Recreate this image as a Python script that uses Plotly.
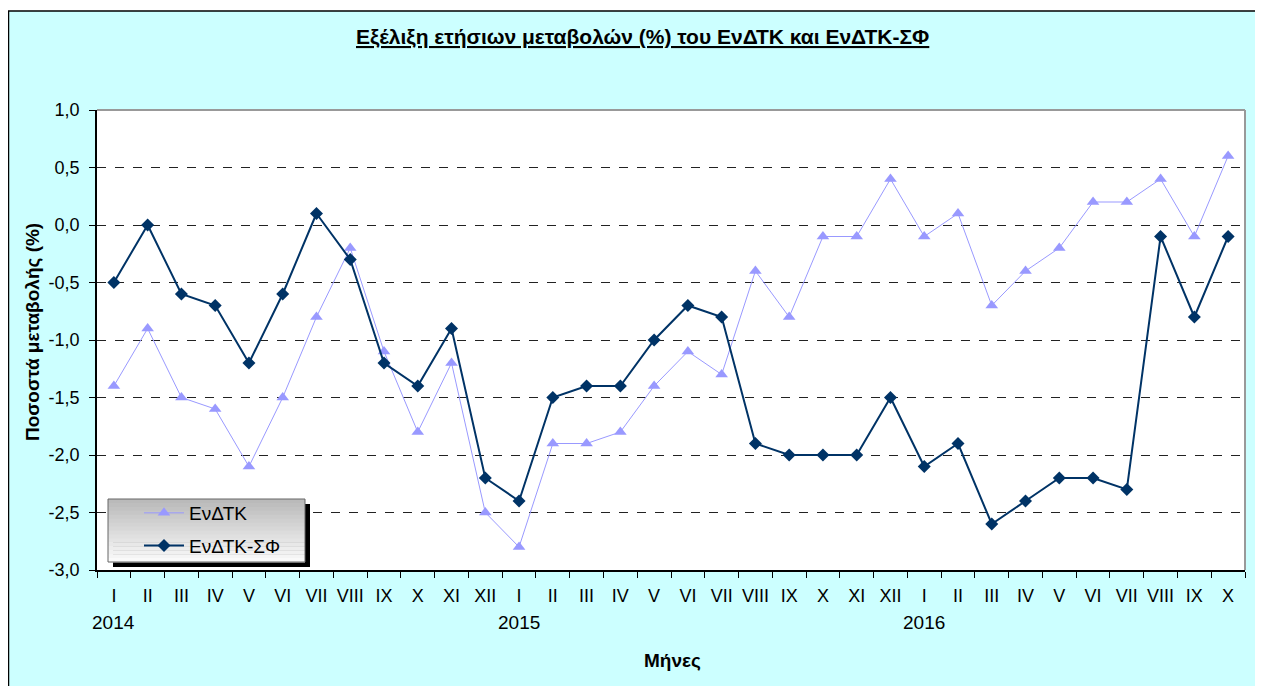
import plotly.graph_objects as go

months = ["I", "II", "III", "IV", "V", "VI", "VII", "VIII", "IX", "X", "XI", "XII",
          "I", "II", "III", "IV", "V", "VI", "VII", "VIII", "IX", "X", "XI", "XII",
          "I", "II", "III", "IV", "V", "VI", "VII", "VIII", "IX", "X"]
years = [2014] * 12 + [2015] * 12 + [2016] * 10
year_labels = ["2014", "2015", "2016"]

endtk = [-1.4, -0.9, -1.5, -1.6, -2.1, -1.5, -0.8, -0.2, -1.1, -1.8, -1.2, -2.5,
         -2.8, -1.9, -1.9, -1.8, -1.4, -1.1, -1.3, -0.4, -0.8, -0.1, -0.1, 0.4,
         -0.1, 0.1, -0.7, -0.4, -0.2, 0.2, 0.2, 0.4, -0.1, 0.6]
endtk_sf = [-0.5, 0.0, -0.6, -0.7, -1.2, -0.6, 0.1, -0.3, -1.2, -1.4, -0.9, -2.2,
            -2.4, -1.5, -1.4, -1.4, -1.0, -0.7, -0.8, -1.9, -2.0, -2.0, -2.0, -1.5,
            -2.1, -1.9, -2.6, -2.4, -2.2, -2.2, -2.3, -0.1, -0.8, -0.1]
series_names = ["ΕνΔΤΚ", "ΕνΔΤΚ-ΣΦ"]
yticks = [1.0, 0.5, 0.0, -0.5, -1.0, -1.5, -2.0, -2.5, -3.0]
ytick_text = [f"{v:.1f}".replace(".", ",") for v in yticks]

cats = [f"{m} {y}" for m, y in zip(months, years)]

# page body has an 8px margin; positions below are in screen pixels
OFF = 8
W, H = 1263, 686
L, T = 89, 102
PW, PH = 1148, 460
R = W - L - PW
B = H - T - PH


def px(sx):
    return (sx - OFF - L) / PW


def py(sy):
    return (T + PH - (sy - OFF)) / PH


FONT = "Liberation Sans, Arial, sans-serif"

fig = go.Figure()
fig.add_trace(go.Scatter(
    x=cats, y=endtk, name=series_names[0], mode="lines+markers",
    line=dict(color="#9999FF", width=1),
    marker=dict(symbol="triangle-up", size=11, color="#9999FF"),
    legendgroup="a",
))
fig.add_trace(go.Scatter(
    x=cats, y=endtk_sf, name=series_names[1], mode="lines+markers",
    line=dict(color="#003366", width=2),
    marker=dict(symbol="diamond", size=10, color="#003366"),
    legendgroup="b",
))

shapes = []
# outer frame: white strip on top, black left/top border
shapes.append(dict(type="rect", xref="paper", yref="paper", x0=px(0), x1=px(W + 20), y0=py(11), y1=py(0),
                   fillcolor="white", line=dict(width=0), layer="above"))
shapes.append(dict(type="line", xref="paper", yref="paper", x0=px(8.5), x1=px(8.5), y0=py(11), y1=py(H + 30),
                   line=dict(color="black", width=1.5), layer="above"))
shapes.append(dict(type="line", xref="paper", yref="paper", x0=px(8), x1=px(W + 20), y0=py(11), y1=py(11),
                   line=dict(color="black", width=1.5), layer="above"))
# plot area grey border top/right
shapes.append(dict(type="line", xref="paper", yref="paper", x0=0, x1=1, y0=1, y1=1,
                   line=dict(color="#999999", width=2), layer="above"))
shapes.append(dict(type="line", xref="paper", yref="paper", x0=1, x1=1, y0=0, y1=1,
                   line=dict(color="#999999", width=2), layer="above"))
# legend box with shadow and gradient
lx0, lx1, ly0, ly1 = 108, 305, 499, 562
shapes.append(dict(type="rect", xref="paper", yref="paper", x0=px(lx0 + 5), x1=px(lx1 + 5), y0=py(ly1 + 5), y1=py(ly0 + 5),
                   fillcolor="black", line=dict(width=0), layer="above"))
nb = 16
for i in range(nb):
    t = i / (nb - 1)
    g = int(186 + (250 - 186) * t)
    yy0 = ly0 + (ly1 - ly0) * i / nb
    yy1 = ly0 + (ly1 - ly0) * (i + 1) / nb
    shapes.append(dict(type="rect", xref="paper", yref="paper", x0=px(lx0), x1=px(lx1), y0=py(yy1 + 0.5), y1=py(yy0),
                       fillcolor=f"rgb({g},{g},{g})", line=dict(width=0), layer="above"))
shapes.append(dict(type="rect", xref="paper", yref="paper", x0=px(lx0), x1=px(lx1), y0=py(ly1), y1=py(ly0),
                   fillcolor="rgba(0,0,0,0)", line=dict(color="#666666", width=1), layer="above"))

annotations = []
annotations.append(dict(xref="paper", yref="paper", x=px(642), y=py(37), xanchor="center", yanchor="middle",
                        text="<b><u>Εξέλιξη ετήσιων μεταβολών (%) του ΕνΔΤΚ και ΕνΔΤΚ-ΣΦ</u></b>",
                        showarrow=False, font=dict(size=21, color="black", family=FONT)))
annotations.append(dict(xref="paper", yref="paper", x=px(672), y=py(660), xanchor="center", yanchor="middle",
                        text="<b>Μήνες</b>", showarrow=False, font=dict(size=19, color="black", family=FONT)))
annotations.append(dict(xref="paper", yref="paper", x=px(32), y=py(332), xanchor="center", yanchor="middle",
                        text="<b>Ποσοστά μεταβολής (%)</b>", textangle=-90, showarrow=False,
                        font=dict(size=19, color="black", family=FONT)))
for yl in year_labels:
    idx = years.index(int(yl))
    annotations.append(dict(xref="x", yref="paper", x=cats[idx], y=py(622), xanchor="center", yanchor="middle",
                            text=yl, showarrow=False, font=dict(size=19, color="black", family=FONT)))

fig.update_layout(
    width=W, height=H,
    margin=dict(l=L, r=R, t=T, b=B, pad=0),
    paper_bgcolor="#CCFFFF",
    plot_bgcolor="white",
    font=dict(family=FONT, size=18, color="black"),
    showlegend=True,
    legend=dict(x=px(139), y=py(494), xanchor="left", yanchor="top",
                bgcolor="rgba(0,0,0,0)", borderwidth=0, tracegroupgap=5,
                traceorder="grouped", font=dict(size=19, color="black", family=FONT),
                itemwidth=40),
    shapes=shapes,
    annotations=annotations,
    xaxis=dict(
        type="category", range=[-0.5, len(cats) - 0.5],
        tickmode="array", tickvals=cats, ticktext=months, tickangle=0,
        tickson="boundaries", ticks="outside", ticklen=6, tickcolor="black", tickwidth=1,
        showgrid=False, showline=True, linecolor="black", linewidth=1.5,
        tickfont=dict(size=18, family=FONT, color="black"), ticklabelstandoff=9,
        fixedrange=True,
    ),
    yaxis=dict(
        range=[-3.0, 1.0], tickmode="array", tickvals=yticks, ticktext=ytick_text,
        ticks="outside", ticklen=6, tickcolor="black", tickwidth=1,
        showgrid=True, gridcolor="#222222", griddash="dash", gridwidth=1,
        zeroline=False, showline=True, linecolor="black", linewidth=1.5,
        tickfont=dict(size=18, family=FONT, color="black"), ticklabelstandoff=6,
        fixedrange=True,
    ),
)

fig.write_html("out.html")
